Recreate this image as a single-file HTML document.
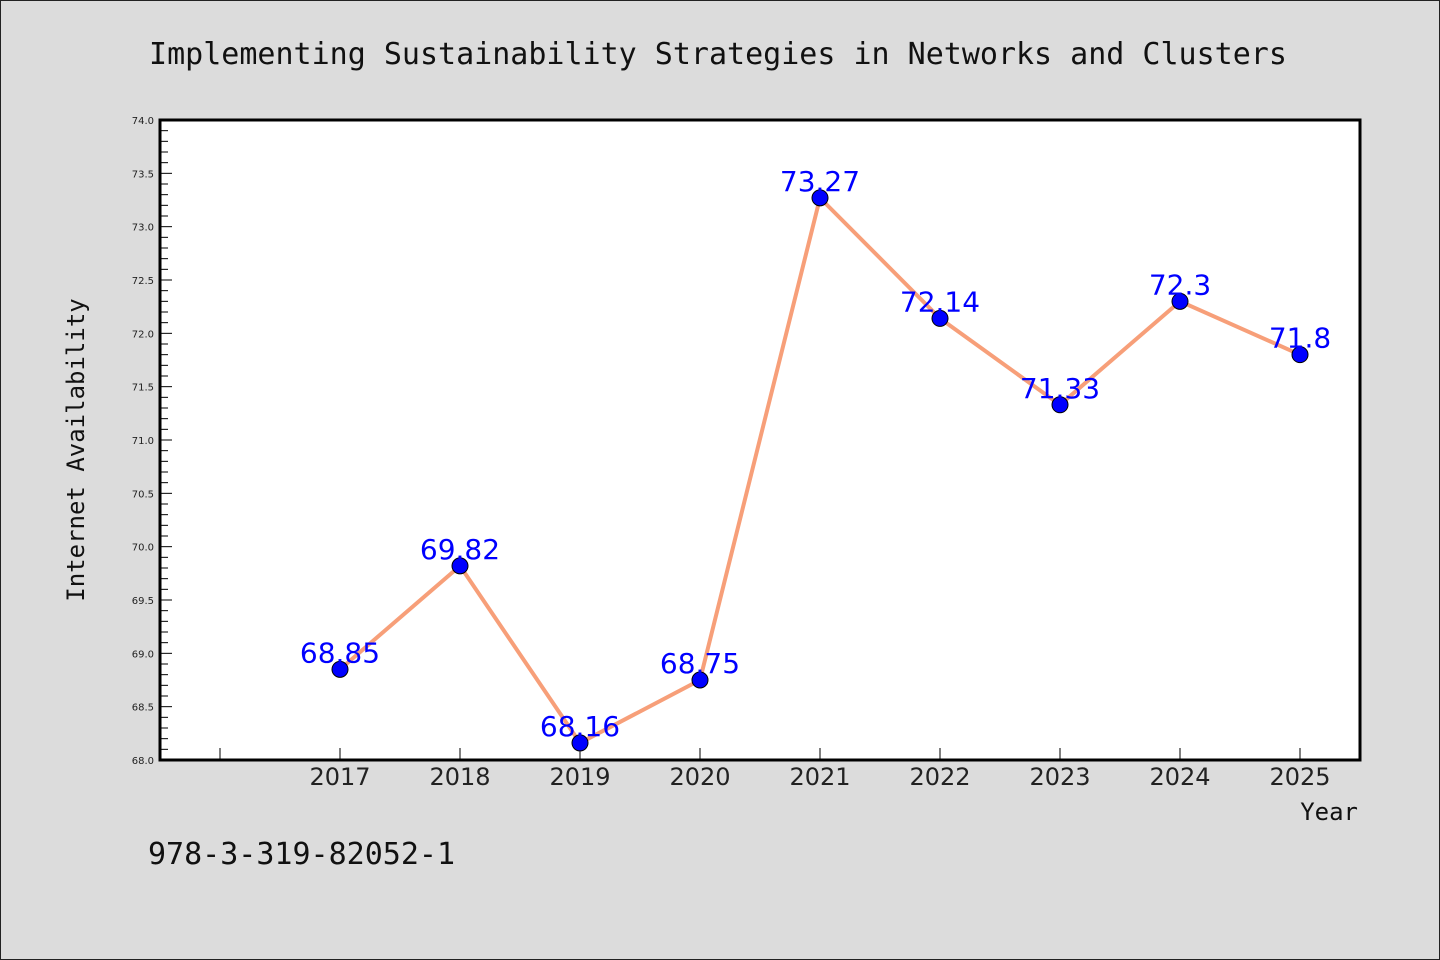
<!DOCTYPE html>
<html><head><meta charset="utf-8"><style>
html,body{margin:0;padding:0;background:#dcdcdc;}
svg{display:block;}
</style></head><body>
<svg id="c" width="1440" height="960" xmlns="http://www.w3.org/2000/svg">
<rect x="0.5" y="0.5" width="1439" height="959" fill="#dcdcdc" stroke="#222"/>
<text x="718" y="64" text-anchor="middle" font-family="'WenQuanYi Zen Hei','DejaVu Sans Mono',monospace" font-size="30" fill="#111">Implementing Sustainability Strategies in Networks and Clusters</text>
<rect x="160" y="120" width="1200" height="640" fill="#fff"/>
<g id="yt"></g><g id="xt"></g><g id="series"></g>
<rect x="160" y="120" width="1200" height="640" fill="none" stroke="#000" stroke-width="3"/>
<text transform="translate(84,450) rotate(-90)" text-anchor="middle" font-family="'WenQuanYi Zen Hei','DejaVu Sans Mono',monospace" font-size="24" fill="#111">Internet Availability</text>
<text x="1358" y="820" text-anchor="end" font-family="'WenQuanYi Zen Hei','DejaVu Sans Mono',monospace" font-size="24" fill="#111">Year</text>
<text x="148" y="864" font-family="'WenQuanYi Zen Hei','DejaVu Sans Mono',monospace" font-size="30" fill="#111">978-3-319-82052-1</text>
</svg>
<script>
const categories = ["2017","2018","2019","2020","2021","2022","2023","2024","2025"];
const values = [68.85, 69.82, 68.16, 68.75, 73.27, 72.14, 71.33, 72.3, 71.8];
const valueLabels = ["68.85","69.82","68.16","68.75","73.27","72.14","71.33","72.3","71.8"];
const yTicks = ["68.0","68.5","69.0","69.5","70.0","70.5","71.0","71.5","72.0","72.5","73.0","73.5","74.0"];
const NS="http://www.w3.org/2000/svg";
const L=160,R=1360,T=120,B=760,yMin=68,yMax=74;
const y=v=>B-(v-yMin)/(yMax-yMin)*(B-T);
const x=i=>L+(i+1.5)*(R-L)/10;
function mk(t,a,p){const e=document.createElementNS(NS,t);for(const k in a)e.setAttribute(k,a[k]);p.appendChild(e);return e;}
const yt=document.getElementById('yt'),xt=document.getElementById('xt'),sg=document.getElementById('series');
for(let k=0;k<=60;k++){const v=yMin+k*0.1;const maj=k%5===0;
 const ln=mk('line',{x1:L,x2:L+(maj?12:8),y1:y(v),y2:y(v),stroke:'#000','stroke-width':1},yt);
 
 }
yTicks.forEach(s=>{const t=mk('text',{x:L-6,y:y(parseFloat(s))+4,'text-anchor':'end','font-family':'DejaVu Sans,sans-serif','font-size':10,fill:'#222'},yt);t.textContent=s;
 
 });
for(let i=-1;i<categories.length;i++){const ln=mk('line',{x1:x(i),x2:x(i),y1:B,y2:B-12,stroke:'#000','stroke-width':1},xt);
 
 }
categories.forEach((c,i)=>{const t=mk('text',{x:x(i),y:B+25,'text-anchor':'middle','font-family':"'WenQuanYi Zen Hei','DejaVu Sans',sans-serif",'font-size':24,fill:'#222'},xt);t.textContent=c;
 
 });
const pl=mk('polyline',{points:values.map((v,i)=>x(i)+','+y(v)).join(' '),fill:'none',stroke:'#f79f79','stroke-width':4,'stroke-linejoin':'round'},sg);


values.forEach((v,i)=>{const c=mk('circle',{cx:x(i),cy:y(v),r:8,fill:'#0000ff',stroke:'#000','stroke-width':1},sg);
 
 
 const t=mk('text',{x:x(i),y:y(v)-7,'text-anchor':'middle','font-family':"'WenQuanYi Zen Hei','DejaVu Sans',sans-serif",'font-size':28,fill:'#0000ff'},sg);t.textContent=valueLabels[i];
 
 });
</script>
</body></html>
